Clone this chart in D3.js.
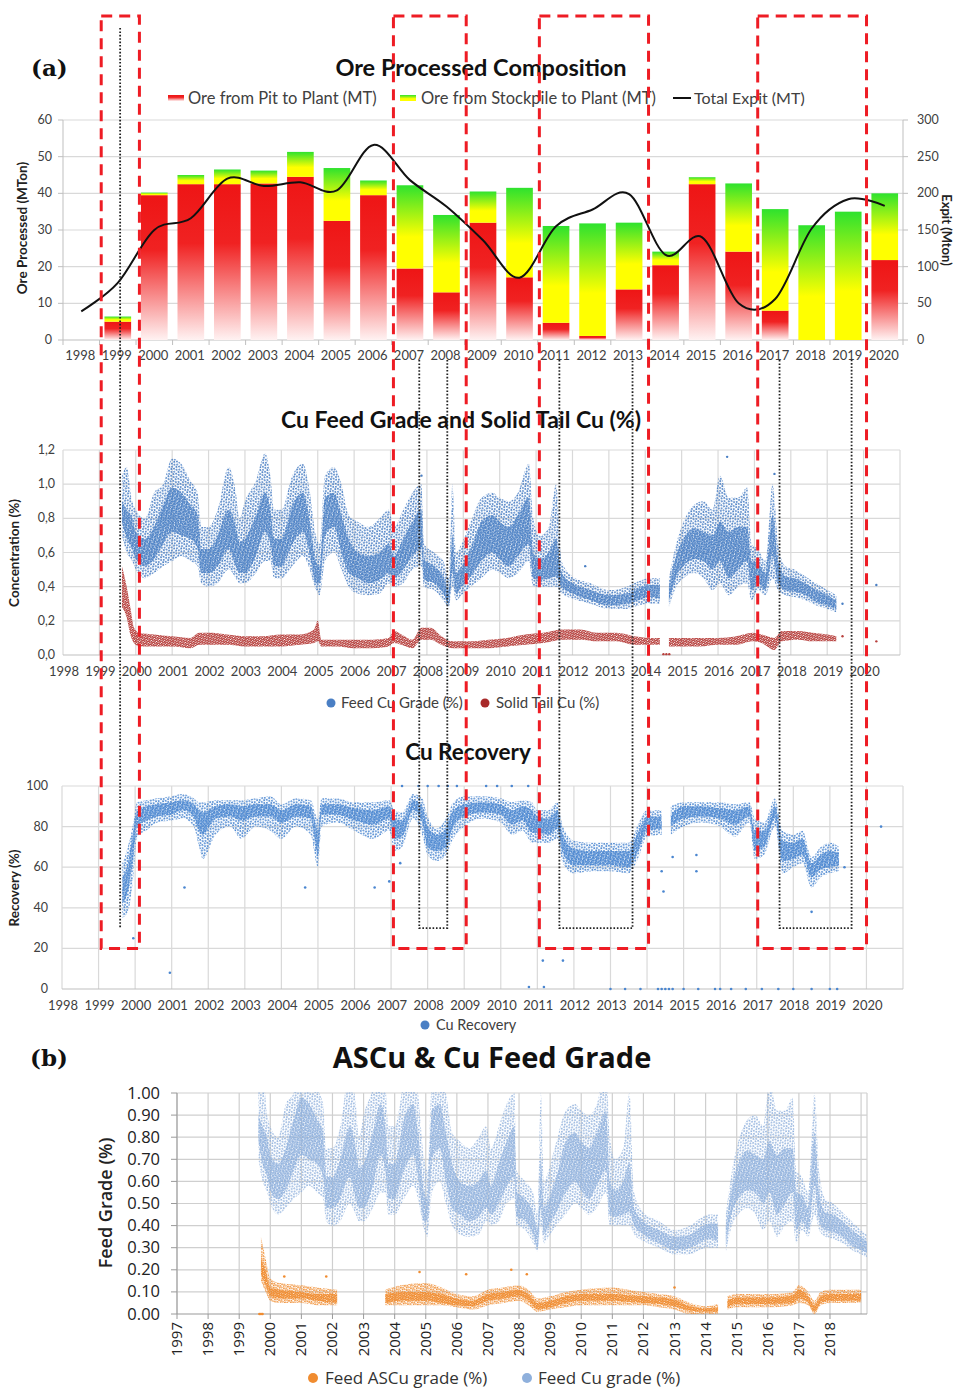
<!DOCTYPE html>
<html><head><meta charset="utf-8">
<script src="https://cdn.jsdelivr.net/npm/d3@7"></script>
<style>body{margin:0;background:#fff}svg{display:block}</style>
</head><body><svg id="c" width="959" height="1389"></svg>
<script>
// ---------------- DATA ----------------
const oreYears = [1998,1999,2000,2001,2002,2003,2004,2005,2006,2007,2008,2009,2010,2011,2012,2013,2014,2015,2016,2017,2018,2019,2020];
const oreFromPit = [0,5.0,39.5,42.5,42.5,42.7,44.5,32.5,39.5,19.5,13.0,32.0,17.1,4.7,1.1,13.8,20.4,42.5,24.1,8.0,0,0,21.8];
const oreFromStockpile = [0,1.4,0.7,2.5,4.0,3.5,6.8,14.4,4.0,22.7,21.1,8.5,24.4,26.4,30.7,18.2,3.7,1.9,18.6,27.7,31.3,35.0,18.2];
const totalExpit = [39,78,150,166,220,210,215,204,266,218,182,136,85,155,178,199,116,140,50,56,152,192,183];
const leftTicks = [0,10,20,30,40,50,60];
const rightTicks = [0,50,100,150,200,250,300];

// Feed Cu grade envelope: [year, low, lower-core, upper-core, high]
const feedCu = [
[1999.62,0.70,0.78,0.90,1.05],[1999.75,0.60,0.68,0.85,1.10],[1999.90,0.55,0.62,0.80,0.90],[2000.00,0.50,0.56,0.72,0.85],
[2000.25,0.45,0.52,0.68,0.80],[2000.50,0.48,0.56,0.75,0.95],[2000.75,0.52,0.65,0.88,1.00],[2001.00,0.55,0.72,0.98,1.15],
[2001.25,0.58,0.70,0.95,1.12],[2001.50,0.55,0.68,0.88,1.02],[2001.70,0.52,0.62,0.82,0.95],[2001.80,0.42,0.48,0.62,0.75],
[2002.00,0.40,0.48,0.62,0.75],[2002.25,0.42,0.52,0.70,0.85],[2002.55,0.50,0.62,0.85,1.10],[2002.75,0.45,0.52,0.75,0.95],
[2002.85,0.42,0.48,0.66,0.80],[2003.00,0.42,0.48,0.68,0.90],[2003.30,0.48,0.58,0.82,1.02],[2003.55,0.55,0.72,0.95,1.18],
[2003.70,0.55,0.65,0.85,1.05],[2003.80,0.45,0.52,0.68,0.85],[2004.00,0.45,0.52,0.68,0.85],[2004.30,0.52,0.65,0.88,1.05],
[2004.60,0.58,0.72,0.95,1.12],[2004.75,0.52,0.62,0.82,1.00],[2004.95,0.38,0.42,0.55,0.70],[2005.05,0.35,0.42,0.52,0.65],
[2005.20,0.55,0.70,0.92,1.05],[2005.45,0.60,0.75,0.95,1.10],[2005.65,0.50,0.60,0.82,1.00],[2005.85,0.40,0.48,0.68,0.82],
[2006.10,0.36,0.45,0.60,0.78],[2006.40,0.35,0.42,0.58,0.75],[2006.70,0.36,0.44,0.60,0.80],[2006.95,0.42,0.48,0.65,0.85],
[2007.10,0.40,0.45,0.58,0.75],[2007.35,0.42,0.50,0.68,0.85],[2007.60,0.50,0.58,0.78,0.95],[2007.85,0.52,0.62,0.85,1.00],
[2007.92,0.40,0.44,0.56,0.65],[2008.20,0.38,0.42,0.52,0.60],[2008.45,0.32,0.36,0.46,0.55],[2008.60,0.28,0.30,0.38,0.45],
[2008.70,0.40,0.48,0.70,1.00],[2008.80,0.32,0.36,0.48,0.60],[2008.95,0.35,0.40,0.52,0.65],[2009.20,0.40,0.46,0.62,0.78],
[2009.50,0.45,0.55,0.78,0.92],[2009.80,0.50,0.60,0.82,0.95],[2010.00,0.48,0.56,0.78,0.92],[2010.25,0.45,0.52,0.75,0.90],
[2010.50,0.48,0.58,0.82,0.95],[2010.80,0.55,0.65,0.92,1.12],[2010.92,0.40,0.45,0.60,0.80],[2011.10,0.40,0.44,0.56,0.70],
[2011.35,0.40,0.45,0.60,0.75],[2011.55,0.40,0.46,0.68,1.00],[2011.70,0.36,0.40,0.48,0.55],[2012.00,0.33,0.36,0.42,0.46],
[2012.50,0.30,0.32,0.38,0.42],[2013.00,0.27,0.29,0.35,0.38],[2013.50,0.27,0.30,0.36,0.40],[2013.80,0.29,0.32,0.39,0.43],
[2014.10,0.30,0.34,0.41,0.45],[2014.40,0.30,0.33,0.41,0.45],[2014.52,null,null,null,null],
[2014.65,0.28,0.31,0.40,0.45],[2014.85,0.40,0.46,0.58,0.65],[2015.05,0.45,0.52,0.68,0.78],[2015.35,0.48,0.56,0.74,0.88],
[2015.60,0.45,0.55,0.72,0.90],[2015.85,0.38,0.50,0.70,0.85],[2016.05,0.42,0.55,0.78,1.05],[2016.30,0.35,0.45,0.72,0.92],
[2016.55,0.40,0.50,0.75,0.92],[2016.80,0.42,0.55,0.75,0.98],[2016.92,0.32,0.38,0.55,0.65],[2017.10,0.38,0.42,0.54,0.62],
[2017.30,0.35,0.38,0.48,0.55],[2017.50,0.45,0.58,0.82,1.00],[2017.65,0.38,0.42,0.55,0.65],[2017.85,0.35,0.38,0.46,0.52],
[2018.10,0.34,0.37,0.45,0.50],[2018.40,0.32,0.35,0.42,0.46],[2018.70,0.29,0.31,0.38,0.42],[2019.00,0.27,0.29,0.35,0.38],
[2019.25,0.25,0.27,0.32,0.35]];
const feedOutliers = [[2019.42,0.30],[2020.35,0.41],[2012.35,0.52],[2016.25,1.16],[2017.55,1.06],[2007.85,1.05]];

// Solid tail Cu envelope: [year, low, high]
const tailCu = [
[1999.62,0.28,0.52],[1999.75,0.22,0.40],[1999.85,0.12,0.28],[1999.95,0.07,0.16],[2000.10,0.05,0.13],[2000.50,0.05,0.12],
[2001.00,0.05,0.11],[2001.50,0.04,0.10],[2001.75,0.06,0.13],[2002.10,0.06,0.13],[2002.50,0.06,0.12],[2003.00,0.05,0.11],
[2003.50,0.05,0.11],[2004.00,0.05,0.12],[2004.50,0.06,0.12],[2004.90,0.07,0.15],[2005.00,0.08,0.20],[2005.10,0.05,0.09],
[2005.50,0.05,0.09],[2006.00,0.04,0.09],[2006.50,0.04,0.09],[2006.95,0.05,0.10],[2007.10,0.07,0.14],[2007.30,0.06,0.12],
[2007.60,0.04,0.09],[2007.85,0.09,0.16],[2008.10,0.09,0.16],[2008.40,0.06,0.11],[2008.70,0.04,0.08],[2009.20,0.04,0.08],
[2009.70,0.04,0.09],[2010.20,0.05,0.10],[2010.70,0.06,0.12],[2011.20,0.07,0.13],[2011.70,0.09,0.15],[2012.20,0.09,0.15],
[2012.70,0.08,0.13],[2013.20,0.08,0.13],[2013.70,0.06,0.11],[2014.10,0.06,0.10],[2014.40,0.06,0.10],[2014.52,null,null],
[2014.65,0.05,0.10],[2015.00,0.05,0.10],[2015.50,0.05,0.10],[2016.00,0.06,0.10],[2016.50,0.06,0.11],[2016.95,0.08,0.13],
[2017.20,0.07,0.12],[2017.55,0.03,0.10],[2017.75,0.08,0.14],[2018.20,0.09,0.14],[2018.60,0.08,0.13],[2019.00,0.08,0.12],
[2019.25,0.08,0.11]];
const tailOutliers = [[2020.35,0.08],[2014.5,0.005],[2014.58,0.005],[2014.66,0.005],[2019.42,0.11]];

// Cu recovery envelope: [year, low, lower-core, upper-core, high]
const recovery = [
[1999.65,35,42,55,62],[1999.80,38,48,62,70],[1999.95,55,65,78,82],[2000.05,75,80,88,92],[2000.30,78,83,90,93],
[2000.60,82,85,91,94],[2001.00,83,86,92,95],[2001.30,84,88,93,96],[2001.60,80,85,91,94],[2001.75,70,78,88,92],
[2001.85,64,76,87,92],[2002.20,76,84,90,93],[2002.60,80,85,91,93],[2002.90,74,83,90,93],[2003.30,80,85,91,94],
[2003.70,78,85,91,95],[2004.00,74,82,88,91],[2004.40,80,85,91,94],[2004.80,76,84,90,93],[2005.00,60,66,78,84],
[2005.10,80,86,91,94],[2005.50,82,86,91,94],[2006.00,78,83,89,92],[2006.50,74,81,88,92],[2006.95,78,84,90,93],
[2007.10,68,74,84,88],[2007.30,70,75,83,87],[2007.60,84,88,93,96],[2007.85,76,82,90,94],[2008.00,66,70,80,85],
[2008.25,63,68,76,79],[2008.50,66,70,79,84],[2008.70,74,80,88,92],[2009.00,80,85,91,95],[2009.50,84,87,92,95],
[2010.00,82,86,91,94],[2010.30,76,81,88,92],[2010.60,78,83,90,93],[2010.85,72,77,88,92],[2011.00,72,77,85,88],
[2011.30,72,76,84,88],[2011.55,74,79,88,92],[2011.70,62,67,76,80],[2012.00,57,61,69,73],[2012.50,58,61,68,72],
[2013.00,58,61,68,72],[2013.50,57,60,68,72],[2013.75,64,68,77,81],[2014.00,75,78,85,88],[2014.40,76,79,85,88],
[2014.52,null,null,null,null],
[2014.65,76,80,86,90],[2015.00,80,84,90,92],[2015.50,82,85,90,92],[2016.00,80,84,89,92],[2016.40,75,81,88,91],
[2016.80,82,85,90,92],[2016.95,64,68,78,84],[2017.20,66,70,78,82],[2017.50,80,84,90,94],[2017.70,57,63,73,78],
[2018.00,60,64,72,76],[2018.25,62,66,74,78],[2018.50,50,55,62,65],[2018.75,55,59,66,70],[2019.00,57,60,68,72],
[2019.25,58,61,67,70]];
const recoveryOutliers = [[1999.95,25],[2000.95,8],[2001.35,50],[2004.65,50],[2006.55,50],[2006.95,53],[2007.25,62],
[2007.3,100],[2007.75,100],[2008.0,100],[2008.3,100],[2008.55,100],[2008.8,100],[2009.6,100],[2009.9,100],[2010.3,100],[2010.75,100],
[2011.15,14],[2011.7,14],[2014.4,58],[2014.45,48],[2014.7,65],[2015.35,66],[2015.35,58],[2018.5,38],[2019.4,60],[2020.4,80],
[2010.77,1],[2011.18,1],[2013.0,0],[2013.4,0],[2013.82,0],[2014.3,0],[2014.4,0],[2014.5,0],[2014.6,0],[2014.7,0],[2015.0,0],[2015.4,0],
[2015.86,0],[2016.0,0],[2016.3,0],[2016.7,0],[2017.14,0],[2017.59,0],[2018.0,0],[2018.5,0],[2019.0,0],[2019.2,0]];

// Feed ASCu grade envelope (panel b): [year, low, lower-core, upper-core, high]
const ascu = [
[1999.70,0.15,0.18,0.25,0.35],[1999.85,0.10,0.13,0.20,0.25],[2000.00,0.06,0.08,0.12,0.16],[2000.30,0.05,0.07,0.11,0.14],
[2001.00,0.05,0.07,0.10,0.13],[2001.50,0.04,0.06,0.09,0.12],[2002.15,0.04,0.05,0.09,0.11],[2002.90,null,null,null,null],
[2003.70,0.04,0.05,0.09,0.11],[2004.20,0.04,0.06,0.10,0.13],[2005.00,0.04,0.06,0.10,0.14],[2005.50,0.04,0.05,0.09,0.12],
[2006.00,0.03,0.04,0.07,0.09],[2006.50,0.02,0.035,0.06,0.08],[2007.00,0.04,0.06,0.09,0.11],[2007.50,0.05,0.07,0.10,0.12],
[2008.00,0.06,0.08,0.11,0.13],[2008.30,0.04,0.06,0.09,0.11],[2008.60,0.01,0.02,0.05,0.07],[2009.00,0.02,0.03,0.06,0.08],
[2009.50,0.03,0.05,0.08,0.10],[2010.00,0.04,0.06,0.09,0.11],[2011.00,0.04,0.06,0.09,0.12],[2011.50,0.04,0.055,0.085,0.11],
[2012.00,0.04,0.05,0.08,0.10],[2012.50,0.03,0.045,0.075,0.09],[2013.00,0.02,0.035,0.065,0.08],[2013.50,0.00,0.015,0.035,0.05],
[2014.00,0.00,0.01,0.025,0.035],[2014.40,0.00,0.01,0.03,0.045],[2014.55,null,null,null,null],
[2014.70,0.02,0.03,0.06,0.08],[2015.00,0.03,0.045,0.075,0.09],[2016.00,0.03,0.045,0.075,0.09],[2016.80,0.04,0.05,0.085,0.10],
[2017.00,0.05,0.07,0.11,0.13],[2017.30,0.04,0.05,0.08,0.10],[2017.50,0.00,0.01,0.04,0.06],[2017.70,0.04,0.05,0.08,0.10],
[2018.00,0.05,0.06,0.09,0.11],[2019.00,0.05,0.06,0.09,0.11]];
const ascuOutliers = [[1999.65,0.0],[1999.7,0.0],[1999.75,0.0],[2000.45,0.17],[2001.8,0.17],[2004.8,0.19],[2006.3,0.18],[2007.75,0.2],[2008.25,0.18],[2013.0,0.12]];

// overlay boxes (years, on the panel-a time axis)
const redBoxes = [[1999.05,2000.10],[2007.08,2009.08],[2011.09,2014.09],[2017.09,2020.08]];
const dotBoxes = [[1999.57,1999.57],[2007.79,2008.56],[2011.64,2013.65],[2017.69,2019.67]];

// ---------------- DRAW ----------------
const svg = d3.select('#c');
const defs = svg.append('defs');
const F = 'Lato, "Open Sans", sans-serif';
const AX = '#404040', GRID = '#d9d9d9';

function grad(id, stops){
  const g = defs.append('linearGradient').attr('id',id).attr('x1',0).attr('y1',0).attr('x2',0).attr('y2',1);
  stops.forEach(s=>g.append('stop').attr('offset',s[0]).attr('stop-color',s[1]));
}
grad('gRed',[['0%','#ee1515'],['38%','#f02222'],['100%','#fff2f2']]);
grad('gStock',[['0%','#2ee22e'],['62%','#ffff00'],['100%','#ffff00']]);

function pattern(id,color,size,pts,r,rot){
  const p = defs.append('pattern').attr('id',id).attr('patternUnits','userSpaceOnUse').attr('width',size).attr('height',size)
    .attr('patternTransform',`rotate(${rot||0})`);
  pts.forEach(q=>p.append('circle').attr('cx',q[0]).attr('cy',q[1]).attr('r',r).attr('fill',color));
}
const densePts=[[0.8,0.8],[2.6,1.6],[1.6,2.9],[3.3,3.4]], sparsePts=[[1,1],[3.6,1.9],[2.0,3.8],[4.6,4.4]];
pattern('pFeedD','#4a7fc4',4,densePts,1.0,17);
pattern('pFeedS','#4a7fc4',5.5,sparsePts,0.95,-23);
pattern('pTail','#b53a37',2.6,[[0.7,0.7],[2.0,1.9]],1.0,12);
pattern('pRecD','#4a86d0',4,densePts,1.0,17);
pattern('pRecS','#4a86d0',5.5,sparsePts,0.95,-23);
pattern('pBFeedD','#8fb0dc',4,densePts,0.95,17);
pattern('pBFeedS','#8fb0dc',5.5,sparsePts,0.9,-23);
pattern('pAscuD','#f08c30',2.6,[[0.7,0.7],[2.0,1.9]],1.0,12);
pattern('pAscuS','#f08c30',4.5,sparsePts.map(p=>[p[0]*0.85,p[1]*0.85]),0.9,-23);

function band(g,rows,x,y,i0,i1,fill,op){
  const a = d3.area().defined(d=>d[i0]!=null).x(d=>x(d[0])).y0(d=>y(d[i0])).y1(d=>y(d[i1])).curve(d3.curveMonotoneX);
  g.append('path').datum(rows).attr('d',a).attr('fill',fill).attr('opacity',op==null?1:op);
}
function txt(g,x,y,s,opt){
  const t=g.append('text').attr('x',x).attr('y',y).text(s).attr('font-family',opt.ff||F).attr('font-size',opt.fs||12)
    .attr('fill',opt.fill||AX).attr('text-anchor',opt.anchor||'start');
  if(opt.fw) t.attr('font-weight',opt.fw);
  if(opt.rot!=null) t.attr('transform',`rotate(${opt.rot},${x},${y})`);
  return t;
}

// ===== Panel (a) top: Ore Processed Composition =====
const gT = svg.append('g');
const bx = d3.scaleBand().domain(oreYears).range([63,903]).paddingInner(0.27).paddingOuter(0.135);
const yL = d3.scaleLinear().domain([0,60]).range([340,120]);
const yR = d3.scaleLinear().domain([0,300]).range([340,120]);
leftTicks.forEach(v=>{
  gT.append('line').attr('x1',63).attr('x2',903).attr('y1',yL(v)).attr('y2',yL(v)).attr('stroke',v===0?'#bfbfbf':GRID).attr('stroke-width',1.2);
  gT.append('line').attr('x1',58).attr('x2',63).attr('y1',yL(v)).attr('y2',yL(v)).attr('stroke','#bfbfbf');
  txt(gT,52,yL(v)+4,v,{fs:12.5,anchor:'end'});
});
rightTicks.forEach(v=>{
  gT.append('line').attr('x1',903).attr('x2',908).attr('y1',yR(v)).attr('y2',yR(v)).attr('stroke','#bfbfbf');
  txt(gT,917,yR(v)+4,v,{fs:12.5});
});
gT.append('line').attr('x1',63).attr('x2',63).attr('y1',120).attr('y2',340).attr('stroke','#bfbfbf');
gT.append('line').attr('x1',903).attr('x2',903).attr('y1',120).attr('y2',340).attr('stroke','#bfbfbf');
oreYears.forEach((yr,i)=>{
  const x0=bx(yr)-bx.step()*bx.paddingInner()/2;
  gT.append('line').attr('x1',x0).attr('x2',x0).attr('y1',340).attr('y2',345).attr('stroke','#bfbfbf');
  txt(gT,bx(yr)+bx.bandwidth()/2-1,360,yr,{fs:13,anchor:'middle'});
  const pit=oreFromPit[i], st=oreFromStockpile[i];
  if(pit>0) gT.append('rect').attr('x',bx(yr)).attr('width',bx.bandwidth()).attr('y',yL(pit)).attr('height',yL(0)-yL(pit)).attr('fill','url(#gRed)');
  if(st>0) gT.append('rect').attr('x',bx(yr)).attr('width',bx.bandwidth()).attr('y',yL(pit+st)).attr('height',yL(pit)-yL(pit+st)).attr('fill','url(#gStock)');
});
gT.append('line').attr('x1',903).attr('x2',903).attr('y1',340).attr('y2',345).attr('stroke','#bfbfbf');
const expLine = d3.line().x((d,i)=>bx(oreYears[i])+bx.bandwidth()/2).y(d=>yR(d)).curve(d3.curveCardinal.tension(0));
gT.append('path').datum(totalExpit).attr('d',expLine).attr('fill','none').attr('stroke','#111').attr('stroke-width',2);
txt(gT,481,76,'Ore Processed Composition',{fs:23.5,fw:700,fill:'#111',anchor:'middle'});
// legend
gT.append('rect').attr('x',168).attr('y',95).attr('width',16).attr('height',6).attr('fill','url(#gRed)');
txt(gT,188,104,'Ore from Pit to Plant (MT)',{fs:16.5});
gT.append('rect').attr('x',400).attr('y',95).attr('width',16).attr('height',6).attr('fill','url(#gStock)');
txt(gT,421,104,'Ore from Stockpile to Plant (MT)',{fs:16.5});
gT.append('line').attr('x1',673).attr('x2',691).attr('y1',98).attr('y2',98).attr('stroke','#111').attr('stroke-width',2);
txt(gT,694,104,'Total Expit (MT)',{fs:16});
txt(gT,27,228,'Ore Processed (MTon)',{fs:13.5,fw:700,anchor:'middle',rot:-90,fill:'#222'});
txt(gT,942,230,'Expit (Mton)',{fs:13,fw:700,anchor:'middle',rot:90,fill:'#222'});
txt(svg,31,76,'(a)',{ff:'"DejaVu Serif", "Liberation Serif", serif',fs:23,fw:700,fill:'#111'});

// ===== Panel (a) middle: Cu Feed Grade and Solid Tail Cu =====
const gM = svg.append('g');
const mx = d3.scaleLinear().domain([1998,2021]).range([63,900]);
const my = d3.scaleLinear().domain([0,1.2]).range([655,450]);
d3.range(1998,2022).forEach(yr=>gM.append('line').attr('x1',mx(yr)).attr('x2',mx(yr)).attr('y1',450).attr('y2',655).attr('stroke',GRID).attr('stroke-width',1.2));
[0,0.2,0.4,0.6,0.8,1.0,1.2].forEach(v=>{
  gM.append('line').attr('x1',63).attr('x2',900).attr('y1',my(v)).attr('y2',my(v)).attr('stroke',v===0?'#bfbfbf':GRID).attr('stroke-width',1.2);
  txt(gM,55,my(v)+4,v.toFixed(1).replace('.',','),{fs:12.5,anchor:'end'});
});
d3.range(1998,2021).forEach(yr=>txt(gM,mx(yr)+1,676,yr,{fs:13,anchor:'middle'}));
const clipM = defs.append('clipPath').attr('id','clipM'); clipM.append('rect').attr('x',63).attr('y',446).attr('width',837).attr('height',212);
const gMd = gM.append('g').attr('clip-path','url(#clipM)');
band(gMd,feedCu,mx,my,1,4,'url(#pFeedS)');
band(gMd,feedCu,mx,my,2,3,'url(#pFeedD)');
band(gMd,tailCu,mx,my,1,2,'url(#pTail)');
gMd.selectAll('.fo').data(feedOutliers).enter().append('circle').attr('cx',d=>mx(d[0])).attr('cy',d=>my(d[1])).attr('r',1.2).attr('fill','#4a7fc4');
gMd.selectAll('.to').data(tailOutliers).enter().append('circle').attr('cx',d=>mx(d[0])).attr('cy',d=>my(d[1])).attr('r',1.2).attr('fill','#b8403d');
txt(gM,461,428,'Cu Feed Grade and Solid Tail Cu (%)',{fs:23,fw:700,fill:'#111',anchor:'middle'});
gM.append('circle').attr('cx',331).attr('cy',703).attr('r',4.5).attr('fill','#4a7fc4');
txt(gM,341,708,'Feed Cu Grade (%)',{fs:15});
gM.append('circle').attr('cx',485).attr('cy',703).attr('r',4.5).attr('fill','#a82a2a');
txt(gM,496,708,'Solid Tail Cu (%)',{fs:15});
txt(gM,19,553,'Concentration (%)',{fs:13.5,fw:700,anchor:'middle',rot:-90,fill:'#222'});

// ===== Panel (a) bottom: Cu Recovery =====
const gR = svg.append('g');
const rx = d3.scaleLinear().domain([1998,2021]).range([62,903]);
const ry = d3.scaleLinear().domain([0,100]).range([989,786]);
d3.range(1998,2022).forEach(yr=>gR.append('line').attr('x1',rx(yr)).attr('x2',rx(yr)).attr('y1',786).attr('y2',989).attr('stroke',GRID).attr('stroke-width',1.2));
[0,20,40,60,80,100].forEach(v=>{
  gR.append('line').attr('x1',62).attr('x2',903).attr('y1',ry(v)).attr('y2',ry(v)).attr('stroke',v===0?'#bfbfbf':GRID).attr('stroke-width',1.2);
  txt(gR,48,ry(v)+4,v,{fs:12.5,anchor:'end'});
});
d3.range(1998,2021).forEach(yr=>txt(gR,rx(yr)+1,1010,yr,{fs:13,anchor:'middle'}));
const clipR = defs.append('clipPath').attr('id','clipR'); clipR.append('rect').attr('x',62).attr('y',782).attr('width',841).attr('height',210);
const gRd = gR.append('g').attr('clip-path','url(#clipR)');
band(gRd,recovery,rx,ry,1,4,'url(#pRecS)');
band(gRd,recovery,rx,ry,2,3,'url(#pRecD)');
gRd.selectAll('.ro').data(recoveryOutliers).enter().append('circle').attr('cx',d=>rx(d[0])).attr('cy',d=>ry(d[1])).attr('r',1.3).attr('fill','#4a86d0');
txt(gR,468,760,'Cu Recovery',{fs:22.5,fw:700,fill:'#111',anchor:'middle'});
gR.append('circle').attr('cx',425).attr('cy',1025).attr('r',4.5).attr('fill','#4a7fc4');
txt(gR,436,1030,'Cu Recovery',{fs:14.5});
txt(gR,19,888,'Recovery (%)',{fs:13.5,fw:700,anchor:'middle',rot:-90,fill:'#222'});

// ===== Panel (b): ASCu & Cu Feed Grade =====
const gB = svg.append('g');
const FB = '"Open Sans", Lato, sans-serif';
const pbx = d3.scaleLinear().domain([1997,2019.19]).range([177,867]);
const pby = d3.scaleLinear().domain([0,1]).range([1314,1093]);
d3.range(1997,2020).forEach(yr=>gB.append('line').attr('x1',pbx(yr)).attr('x2',pbx(yr)).attr('y1',1093).attr('y2',1314).attr('stroke','#cfcfcf').attr('stroke-width',1.2));
gB.append('line').attr('x1',867).attr('x2',867).attr('y1',1093).attr('y2',1314).attr('stroke','#cfcfcf').attr('stroke-width',1.2);
d3.range(0,11).map(i=>i/10).forEach(v=>{
  gB.append('line').attr('x1',177).attr('x2',867).attr('y1',pby(v)).attr('y2',pby(v)).attr('stroke',v===0?'#9a9a9a':'#cfcfcf').attr('stroke-width',1.2);
  gB.append('line').attr('x1',171).attr('x2',177).attr('y1',pby(v)).attr('y2',pby(v)).attr('stroke','#9a9a9a');
  txt(gB,160,pby(v)+5.5,v.toFixed(2),{ff:FB,fs:16.5,anchor:'end',fill:'#222'});
});
gB.append('line').attr('x1',177).attr('x2',177).attr('y1',1093).attr('y2',1314).attr('stroke','#9a9a9a');
d3.range(1997,2019).forEach(yr=>{
  gB.append('line').attr('x1',pbx(yr)).attr('x2',pbx(yr)).attr('y1',1314).attr('y2',1319).attr('stroke','#9a9a9a');
  txt(gB,pbx(yr)+5,1322,yr,{ff:FB,fs:15,anchor:'end',rot:-90,fill:'#222'});
});
const clipB = defs.append('clipPath').attr('id','clipB'); clipB.append('rect').attr('x',177).attr('y',1092).attr('width',690).attr('height',224);
const gBd = gB.append('g').attr('clip-path','url(#clipB)');
band(gBd,feedCu,pbx,pby,1,4,'url(#pBFeedS)');
band(gBd,feedCu,pbx,pby,2,3,'url(#pBFeedD)');
band(gBd,ascu,pbx,pby,1,4,'url(#pAscuS)');
band(gBd,ascu,pbx,pby,2,3,'url(#pAscuD)');
gBd.selectAll('.ao').data(ascuOutliers).enter().append('circle').attr('cx',d=>pbx(d[0])).attr('cy',d=>pby(d[1])).attr('r',1.3).attr('fill','#f08c30');
txt(gB,492,1068,'ASCu & Cu Feed Grade',{ff:FB,fs:29,fw:700,fill:'#111',anchor:'middle'});
txt(gB,112,1203,'Feed Grade (%)',{ff:FB,fs:18,fw:600,anchor:'middle',rot:-90,fill:'#222'});
gB.append('circle').attr('cx',313).attr('cy',1378).attr('r',5).attr('fill','#f08c30');
txt(gB,325,1384,'Feed ASCu grade (%)',{ff:FB,fs:17,fill:'#333'});
gB.append('circle').attr('cx',527).attr('cy',1378).attr('r',5).attr('fill','#8fb0dc');
txt(gB,538,1384,'Feed Cu grade (%)',{ff:FB,fs:17,fill:'#333'});
txt(svg,30,1066,'(b)',{ff:'"DejaVu Serif", "Liberation Serif", serif',fs:23,fw:700,fill:'#111'});

// ===== overlays: red dashed & black dotted boxes =====
const gO = svg.append('g');
const yTop = 16, yBot = ry(20);
redBoxes.forEach(b=>{
  const x1=mx(b[0]), x2=mx(b[1]);
  gO.append('path').attr('d',`M${x1},${yTop}H${x2}V${yBot}H${x1}Z`).attr('fill','none')
    .attr('stroke','#ee1c24').attr('stroke-width',3).attr('stroke-dasharray','11,7');
});
dotBoxes.forEach((b,i)=>{
  const x1=mx(b[0]), x2=mx(b[1]), top = i===0?28:360, bot = ry(30);
  const d = x1===x2 ? `M${x1},${top}V${bot}` : `M${x1},${top}V${bot}H${x2}V${top}`;
  gO.append('path').attr('d',d).attr('fill','none').attr('stroke','#222').attr('stroke-width',1.8).attr('stroke-dasharray','1.6,1.8');
});
</script></body></html>
